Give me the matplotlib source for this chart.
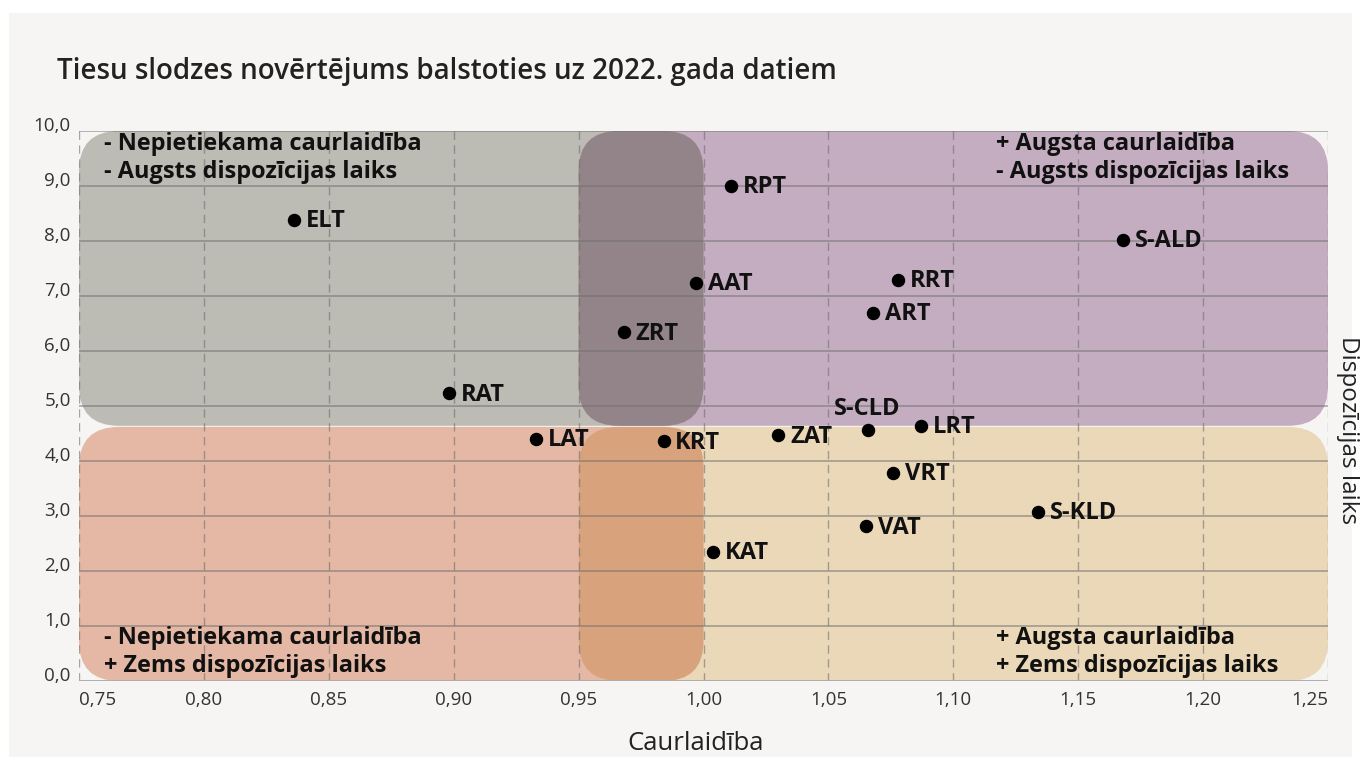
import numpy as np
import matplotlib.pyplot as plt
from matplotlib.patches import FancyBboxPatch, Rectangle
from matplotlib.ticker import FuncFormatter

plt.rcParams['font.family'] = ['Open Sans', 'DejaVu Sans']

# --- data ---
title = 'Tiesu slodzes novērtējums balstoties uz 2022. gada datiem'
courts = ['ELT', 'RAT', 'LAT', 'ZRT', 'KRT', 'AAT', 'RPT', 'KAT', 'ZAT',
          'S-CLD', 'LRT', 'VRT', 'VAT', 'ART', 'RRT', 'S-ALD', 'S-KLD']
throughput = [0.836, 0.898, 0.933, 0.968, 0.984, 0.997, 1.011, 1.004, 1.030,
              1.066, 1.087, 1.076, 1.065, 1.068, 1.078, 1.168, 1.134]
disp_time = [8.38, 5.23, 4.40, 6.34, 4.36, 7.24, 9.00, 2.35, 4.47,
             4.56, 4.64, 3.78, 2.81, 6.69, 7.29, 8.02, 3.08]

x_ticks = [0.75, 0.80, 0.85, 0.90, 0.95, 1.00, 1.05, 1.10, 1.15, 1.20, 1.25]
y_ticks = [0, 1, 2, 3, 4, 5, 6, 7, 8, 9, 10]

quad_text = ['- Nepietiekama caurlaidība\n- Augsts dispozīcijas laiks',
             '+ Augsta caurlaidība\n- Augsts dispozīcijas laiks',
             '- Nepietiekama caurlaidība\n+ Zems dispozīcijas laiks',
             '+ Augsta caurlaidība\n+ Zems dispozīcijas laiks']

# zone boxes: x0, x1, y0, y1, colour
zones = [(0.75, 1.00, 4.64, 10.0, '#bcbbb4'),
         (0.95, 1.25, 4.64, 10.0, '#c4adc1'),
         (0.95, 1.00, 4.64, 10.0, '#93848a'),
         (0.75, 1.00, 0.0, 4.62, '#e4b8a5'),
         (0.95, 1.25, 0.0, 4.62, '#ead8b9'),
         (0.95, 1.00, 0.0, 4.62, '#d8a27c')]

W, H = 1360, 765
fig = plt.figure(figsize=(W / 100, H / 100), dpi=100)
fig.patch.set_facecolor('white')
fig.patches.append(Rectangle((9 / W, 1 - 757 / H), (1352 - 9) / W, (757 - 13) / H,
                             transform=fig.transFigure, facecolor='#f6f5f3',
                             edgecolor='none', zorder=-5))

left, right, top, bottom = 79, 1328, 131, 681
ax = fig.add_axes([left / W, 1 - bottom / H, (right - left) / W, (bottom - top) / H])
ax.set_facecolor('none')
ax.set_xlim(0.75, 1.25)
ax.set_ylim(0, 10)

# corner radius of ~40 px expressed in data units
rad_px = 40
rx = rad_px * 0.5 / (right - left)
ry = rad_px * 10 / (bottom - top)
for x0, x1, y0, y1, c in zones:
    ax.add_patch(FancyBboxPatch((x0, y0), x1 - x0, y1 - y0,
                                boxstyle=f'round,pad=0,rounding_size={rx}',
                                mutation_aspect=ry / rx,
                                facecolor=c, edgecolor='none', zorder=1))

# grid
for yv in y_ticks:
    ax.axhline(yv, color='#6f6f6f', alpha=0.5, lw=1.4, zorder=2)
for xv in x_ticks:
    ax.axvline(xv, color='#6f6f6f', alpha=0.6, lw=1.0, ls=(0, (6, 4)), zorder=2)
ax.axhline(0, color='#b0b0b0', lw=2, zorder=2)

ax.scatter(throughput, disp_time, s=75, color='black', zorder=4)
for name, xv, yv in zip(courts, throughput, disp_time):
    if name == 'S-CLD':
        ax.annotate(name, (xv, yv), xytext=(-1, 15), textcoords='offset points',
                    ha='center', va='center', fontsize=17, fontweight='bold',
                    color='#111111', zorder=5)
    else:
        ax.annotate(name, (xv, yv), xytext=(8.5, -1), textcoords='offset points',
                    ha='left', va='center', fontsize=17, fontweight='bold',
                    color='#111111', zorder=5)

qpos = [(0.760, 9.51), (1.1172, 9.51), (0.760, 0.53), (1.1172, 0.53)]
for txt, (qx, qy) in zip(quad_text, qpos):
    ax.text(qx, qy, txt, ha='left', va='center', fontsize=16.9, fontweight='bold',
            color='#111111', linespacing=1.22, zorder=5)

for s in ax.spines.values():
    s.set_visible(False)
ax.set_xticks(x_ticks)
ax.set_yticks(y_ticks)
ax.xaxis.set_major_formatter(FuncFormatter(lambda v, p: f'{v:.2f}'.replace('.', ',')))
ax.yaxis.set_major_formatter(FuncFormatter(lambda v, p: f'{v:.1f}'.replace('.', ',')))
ax.tick_params(axis='both', length=0, labelsize=13.5, colors='#333333')
ax.tick_params(axis='x', pad=7)
ax.tick_params(axis='y', pad=6)
xt = ax.xaxis.get_major_ticks()
xt[0].label1.set_horizontalalignment('left')
xt[-1].label1.set_horizontalalignment('right')
for t in ax.yaxis.get_major_ticks():
    t.label1.set_verticalalignment('baseline')

fig.text(57 / W, 1 - 72 / H, title, ha='left', va='center', fontsize=20,
         fontweight='semibold', color='#222222')
fig.text(696 / W, 1 - 743 / H, 'Caurlaidība', ha='center', va='center',
         fontsize=18.5, color='#222222')
fig.text(1348 / W, 1 - 430 / H, 'Dispozīcijas laiks', ha='center', va='center',
         rotation=270, fontsize=17.5, color='#222222')

fig.savefig('out.png', dpi=100, facecolor=fig.get_facecolor())
